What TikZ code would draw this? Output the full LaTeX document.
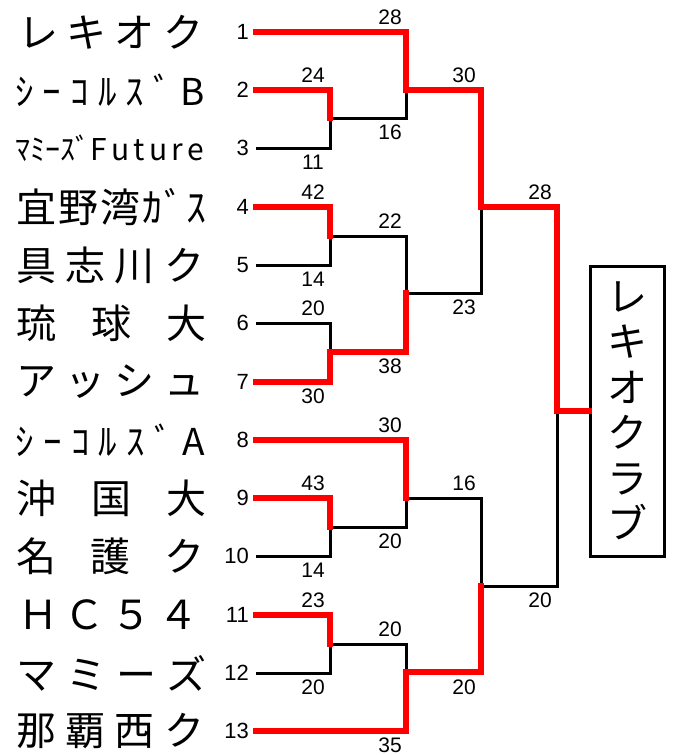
\documentclass[tikz,border=0pt]{standalone}
\usepackage{fontspec}
\setmainfont{Liberation Sans}
\newfontfamily\jp{Noto Sans CJK JP}
\begin{document}
\begin{tikzpicture}[x=1pt,y=-1pt,
  win/.style={red, line width=6pt, line join=miter, line cap=rect},
  lose/.style={black, line width=3pt, line join=miter},
  num/.style={font=\fontsize{22}{22}\selectfont, anchor=east, inner sep=0pt},
  score/.style={font=\fontsize{21}{21}\selectfont, inner sep=0pt},
  team/.style={font=\jp\fontsize{40}{40}\selectfont, anchor=west, inner sep=0pt},
  champbox/.style={draw, line width=3pt, minimum width=74pt, minimum height=290pt, inner sep=0pt,
     align=center, font=\jp\fontsize{40}{45.5}\selectfont}]
\useasboundingbox (0,0) rectangle (673,755);

% entry numbers and line starts
\foreach \i/\y in {1/32,2/90,3/148,4/207,5/265,6/323,7/382,8/440,9/498,10/556,11/615,12/673,13/731}{
  \node[num] (n\i) at (249,\y) {\i};
  \coordinate (s\i) at (256,\y);
}

% team names
\node[team] (t1) at (18,32) {\makebox[185pt][s]{レ\hfill キ\hfill オ\hfill ク}};
\node[team,font=\jp\fontsize{37}{37}\selectfont] (t2) at (15,90) {\makebox[190pt][s]{ｼ\hfill ｰ\hfill ｺ\hfill ﾙ\hfill ｽ\hfill ﾞ\hfill B}};
\node[team,font=\jp\fontsize{30}{30}\selectfont] (t3) at (15,148) {\makebox[188pt][s]{ﾏﾐｰｽﾞ\hfill\makebox[114pt][s]{F\hfill u\hfill t\hfill u\hfill r\hfill e}}};
\node[team] (t4) at (16,207) {\makebox[190pt][s]{宜\hfill 野\hfill 湾\hfill ｶ\hfill ﾞ\hfill ｽ}};
\node[team] (t5) at (16,265) {\makebox[188pt][s]{具\hfill 志\hfill 川\hfill ク}};
\node[team] (t6) at (16,323) {\makebox[190pt][s]{琉\hfill 球\hfill 大}};
\node[team] (t7) at (16,382) {\makebox[188pt][s]{ア\hfill ッ\hfill シ\hfill ュ}};
\node[team,font=\jp\fontsize{37}{37}\selectfont] (t8) at (15,440) {\makebox[190pt][s]{ｼ\hfill ｰ\hfill ｺ\hfill ﾙ\hfill ｽ\hfill ﾞ\hfill A}};
\node[team] (t9) at (16,498) {\makebox[190pt][s]{沖\hfill 国\hfill 大}};
\node[team] (t10) at (16,556) {\makebox[188pt][s]{名\hfill 護\hfill ク}};
\node[team] (t11) at (18,615) {\makebox[180pt][s]{Ｈ\hfill Ｃ\hfill ５\hfill ４}};
\node[team] (t12) at (16,673) {\makebox[190pt][s]{マ\hfill ミ\hfill ー\hfill ズ}};
\node[team] (t13) at (16,731) {\makebox[188pt][s]{那\hfill 覇\hfill 西\hfill ク}};

% champion box
\node[champbox] (champ) at (627,411) {レ\\キ\\オ\\ク\\ラ\\ブ};

% round 1 (x=330)
\coordinate (a2) at (330,90);  \coordinate (a3) at (330,148);  \coordinate (m23) at (330,118);
\coordinate (a4) at (330,207); \coordinate (a5) at (330,265);  \coordinate (m45) at (330,236);
\coordinate (a6) at (330,323); \coordinate (a7) at (330,382);  \coordinate (m67) at (330,352);
\coordinate (a9) at (330,498); \coordinate (a10) at (330,556); \coordinate (m910) at (330,527);
\coordinate (a11) at (330,615); \coordinate (a12) at (330,673); \coordinate (m1112) at (330,644);
% round 2 (x=406)
\coordinate (b1) at (406,32);   \coordinate (b23) at (406,118);   \coordinate (r1) at (406,90);
\coordinate (b45) at (406,236); \coordinate (b67) at (406,352);   \coordinate (r2) at (406,293);
\coordinate (b8) at (406,440);  \coordinate (b910) at (406,527);  \coordinate (r3) at (406,498);
\coordinate (b1112) at (406,644); \coordinate (b13) at (406,731); \coordinate (r4) at (406,672);
% round 3 (x=481)
\coordinate (c1) at (481,90);  \coordinate (c2) at (481,293); \coordinate (q1) at (481,207);
\coordinate (c3) at (481,498); \coordinate (c4) at (481,672); \coordinate (q2) at (481,586);
% final (x=557)
\coordinate (d1) at (557,207); \coordinate (d2) at (557,586); \coordinate (f) at (557,411);

% losing lines
\draw[lose] (s3) -- (a3) -- (m23) -- (b23) -- (r1);
\draw[lose] (s5) -- (a5) -- (m45) -- (b45) -- (r2) -- (c2) -- (q1);
\draw[lose] (s6) -- (a6) -- (m67);
\draw[lose] (s10) -- (a10) -- (m910) -- (b910) -- (r3) -- (c3) -- (q2) -- (d2) -- (f);
\draw[lose] (s12) -- (a12) -- (m1112) -- (b1112) -- (r4);

% winning lines
\draw[win] (s1) -- (b1) -- (r1) -- (c1) -- (q1) -- (d1) -- (f) -- (champ.west);
\draw[win] (s2) -- (a2) -- (m23);
\draw[win] (s4) -- (a4) -- (m45);
\draw[win] (s7) -- (a7) -- (m67) -- (b67) -- (r2);
\draw[win] (s8) -- (b8) -- (r3);
\draw[win] (s9) -- (a9) -- (m910);
\draw[win] (s11) -- (a11) -- (m1112);
\draw[win] (s13) -- (b13) -- (r4) -- (c4) -- (q2);

% scores round 1
\node[score] (p2) at (313,75.5) {24};
\node[score] (p3) at (313,162.5) {11};
\node[score] (p4) at (313,192.5) {42};
\node[score] (p5) at (313,279.5) {14};
\node[score] (p6) at (313,308.5) {20};
\node[score] (p7) at (313,396.5) {30};
\node[score] (p9) at (313,483.5) {43};
\node[score] (p10) at (313,570.5) {14};
\node[score] (p11) at (313,600.5) {23};
\node[score] (p12) at (313,687.5) {20};
% scores round 2
\node[score] (u1) at (390,17.5) {28};
\node[score] (u2) at (390,132.5) {16};
\node[score] (u3) at (390,221.5) {22};
\node[score] (u4) at (390,366.5) {38};
\node[score] (u5) at (390,425.5) {30};
\node[score] (u6) at (390,541.5) {20};
\node[score] (u7) at (390,629.5) {20};
\node[score] (u8) at (390,745) {35};
% scores round 3
\node[score] (v1) at (464,75.5) {30};
\node[score] (v2) at (464,307.5) {23};
\node[score] (v3) at (464,483.5) {16};
\node[score] (v4) at (464,687) {20};
% final scores
\node[score] (w1) at (540,192.5) {28};
\node[score] (w2) at (540,600.5) {20};
\end{tikzpicture}
\end{document}
